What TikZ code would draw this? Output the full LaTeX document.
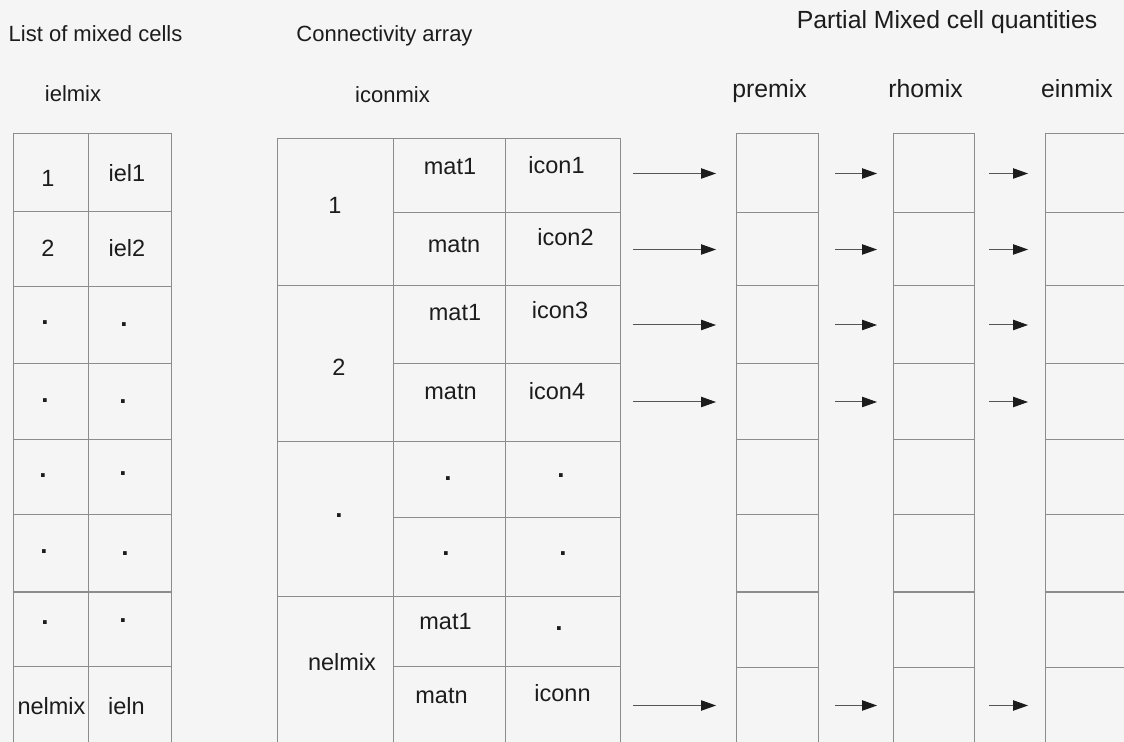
\documentclass[tikz,border=0pt]{standalone}
\usepackage{fontspec}
\setmainfont{Liberation Sans}
\usetikzlibrary{arrows.meta}
\definecolor{paper}{RGB}{245,245,245}
\definecolor{rule}{RGB}{140,140,140}
\definecolor{ink}{RGB}{28,28,28}
\begin{document}
\begin{tikzpicture}[x=0.5pt,y=-0.5pt,
  cell/.style={draw=rule,line width=0.5pt,inner sep=0pt,outer sep=0pt},
  head/.style={text=ink,inner sep=0pt,anchor=base,font=\fontsize{11pt}{13pt}\selectfont},
  qhead/.style={text=ink,inner sep=0pt,anchor=base,font=\fontsize{12.4pt}{15pt}\selectfont},
  lbl/.style={text=ink,inner sep=0pt,font=\fontsize{11.75pt}{14pt}\selectfont},
  dotlbl/.style={text=ink,inner sep=0pt,font=\fontsize{13pt}{15pt}\selectfont\bfseries},
  arr/.style={draw=ink!75,line width=0.5pt,
    -{Triangle[length=7.5pt,width=5.2pt,color=ink,fill=ink]}}]
\useasboundingbox (0,0) rectangle (1124,742);
\fill[paper] (0,0) rectangle (1124,742);
\clip (0,0) rectangle (1124,742);

% headings
\node[head] (tlist) at (95.5,42) {List of mixed cells};
\node[head] (tconn) at (384.5,42) {Connectivity array};
\node[head] (tielmix) at (73,102) {ielmix};
\node[head] (ticonmix) at (392.5,103) {iconmix};
\node[qhead] (tpart) at (947,29) {Partial Mixed cell quantities};
\node[qhead] (tpremix) at (769.5,98) {premix};
\node[qhead] (trhomix) at (925.5,98) {rhomix};
\node[qhead] (teinmix) at (1077,98) {einmix};

% list of mixed cells (ielmix)
\foreach \ya/\yb [count=\i] in {134/212,212/287,287/364,364/440,440/515,515/592,592/666,666/744} {
  \node[cell,minimum width=37.5pt,minimum height={(\yb-\ya)*0.5pt}] (la\i) at (50.5,{(\ya+\yb)/2}) {};
  \node[cell,minimum width=41.5pt,minimum height={(\yb-\ya)*0.5pt}] (lb\i) at (129.5,{(\ya+\yb)/2}) {};
}
\node[lbl] (ln1) at (48,178) {1};
\node[lbl] (le1) at (127,173) {iel1};
\node[lbl] (ln2) at (48,248) {2};
\node[lbl] (le2) at (127,248) {iel2};
\foreach \xa/\ya/\xb/\yb [count=\i] in {45/323/124/325,45/401/123/402,43/476/123/474,44/552/125/554,45/623/123/621} {
  \node[dotlbl] (ldA\i) at (\xa,\ya) {.};
  \node[dotlbl] (ldB\i) at (\xb,\yb) {.};
}
\node[lbl] (lnn) at (51.5,706) {nelmix};
\node[lbl] (len) at (126.5,706) {ieln};

% connectivity array (iconmix)
\foreach \ya/\yb [count=\i] in {139/286,286/442,442/596,596/744} {
  \node[cell,minimum width=58pt,minimum height={(\yb-\ya)*0.5pt}] (g\i) at (335,{(\ya+\yb)/2}) {};
}
\foreach \ya/\yb [count=\i] in {139/213,213/286,286/364,364/442,442/518,518/596,596/666,666/744} {
  \node[cell,minimum width=56pt,minimum height={(\yb-\ya)*0.5pt}] (m\i) at (449,{(\ya+\yb)/2}) {};
  \node[cell,minimum width=57.5pt,minimum height={(\yb-\ya)*0.5pt}] (c\i) at (562.5,{(\ya+\yb)/2}) {};
}
\node[lbl] (gn1) at (335,205) {1};
\node[lbl] (mt1) at (450,167) {mat1};
\node[lbl] (ic1) at (556.5,165) {icon1};
\node[lbl] (mt2) at (454,245) {matn};
\node[lbl] (ic2) at (565.5,237) {icon2};
\node[lbl] (gn2) at (339,367) {2};
\node[lbl] (mt3) at (455,313) {mat1};
\node[lbl] (ic3) at (560,310) {icon3};
\node[lbl] (mt4) at (450.5,392) {matn};
\node[lbl] (ic4) at (557,391) {icon4};
\node[dotlbl] (gd) at (339,516) {.};
\node[dotlbl] (md5) at (448,479) {.};
\node[dotlbl] (cd5) at (561,476) {.};
\node[dotlbl] (md6) at (446,554) {.};
\node[dotlbl] (cd6) at (563,554) {.};
\node[lbl] (mt7) at (445.5,622) {mat1};
\node[dotlbl] (cd7) at (559,629) {.};
\node[lbl] (gnn) at (342,662) {nelmix};
\node[lbl] (mt8) at (441.5,696) {matn};
\node[lbl] (icn) at (562.5,693) {iconn};

% partial mixed cell quantities
\foreach \ya/\yb [count=\i] in {134/213,213/286,286/364,364/440,440/515,515/592,592/667,667/744} {
  \node[cell,minimum width=41pt,minimum height={(\yb-\ya)*0.5pt}] (p\i) at (777,{(\ya+\yb)/2}) {};
  \node[cell,minimum width=40.5pt,minimum height={(\yb-\ya)*0.5pt}] (r\i) at (933.5,{(\ya+\yb)/2}) {};
  \node[cell,minimum width=41pt,minimum height={(\yb-\ya)*0.5pt}] (e\i) at (1086,{(\ya+\yb)/2}) {};
}

% arrows
\foreach \i in {1,2,3,4,8} {
  \draw[arr,shorten <=6.5pt,shorten >=10pt] (c\i.east |- p\i.west) -- (p\i.west);
  \draw[arr,shorten <=8.5pt,shorten >=8pt] (p\i.east) -- (r\i.west |- p\i.east);
  \draw[arr,shorten <=7.5pt,shorten >=8.5pt] (r\i.east) -- (e\i.west |- r\i.east);
}
\end{tikzpicture}
\end{document}
